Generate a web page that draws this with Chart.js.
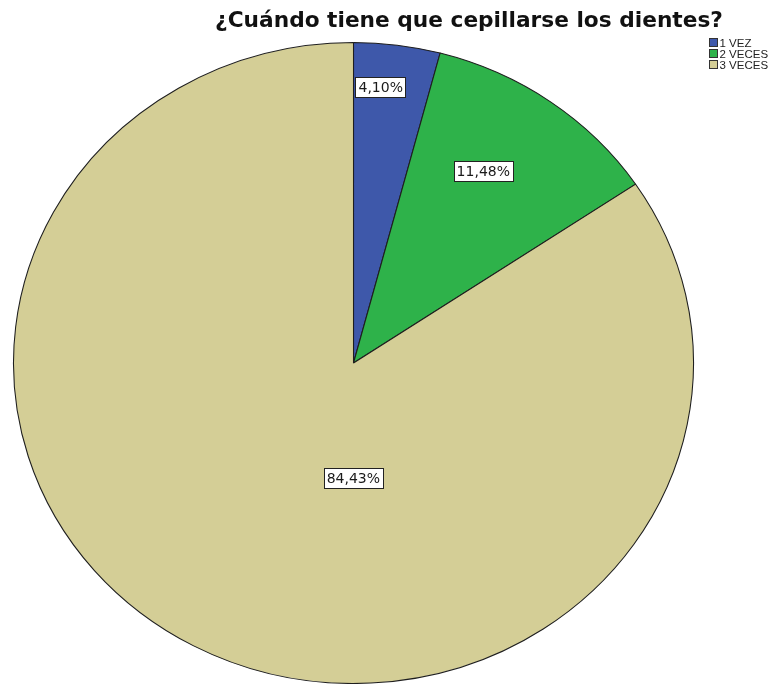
<!DOCTYPE html>
<html>
<head>
<meta charset="utf-8">
<script src="https://cdn.jsdelivr.net/npm/chart.js@4/dist/chart.umd.min.js"></script>
<style>
  html, body { margin: 0; padding: 0; background: #ffffff; }
  #wrap { width: 781px; height: 684px; position: relative; }
</style>
</head>
<body>
<div id="wrap"><canvas id="pie" width="781" height="684"></canvas></div>
<script>
// Answers to "¿Cuándo tiene que cepillarse los dientes?"
const categories = ['1 VEZ', '2 VECES', '3 VECES'];
const percentages = [4.10, 11.48, 84.43];
const sliceColors = ['#3e58aa', '#2eb24a', '#d4ce96'];
const titleText = '¿Cuándo tiene que cepillarse los dientes?';

// Where each value box sits inside its slice: fraction along the slice angle, fraction of the radius
const labelPlacement = [
  { along: 0.36, radial: 0.865 },
  { along: 0.43, radial: 0.71 },
  { along: 0.408, radial: 0.36 }
];

// The pie is drawn slightly wider than tall
const STRETCH_X = 340 / 320.5;

const formatPct = v => v.toFixed(2).replace('.', ',') + '%';

const stretchPlugin = {
  id: 'stretchPie',
  beforeDatasetsDraw(chart) {
    const arc = chart.getDatasetMeta(0).data[0];
    const ctx = chart.ctx;
    ctx.save();
    ctx.translate(arc.x, arc.y);
    ctx.scale(STRETCH_X, 1);
    ctx.translate(-arc.x, -arc.y);
  },
  afterDatasetsDraw(chart) {
    chart.ctx.restore();
  }
};

const decorPlugin = {
  id: 'decor',
  afterDraw(chart) {
    const ctx = chart.ctx;
    const meta = chart.getDatasetMeta(0);
    const values = chart.data.datasets[0].data;

    // value boxes
    ctx.save();
    ctx.font = '14px "DejaVu Sans"';
    ctx.textAlign = 'center';
    ctx.textBaseline = 'middle';
    meta.data.forEach((arc, i) => {
      const p = labelPlacement[i];
      const a = arc.startAngle + p.along * (arc.endAngle - arc.startAngle);
      const r = arc.outerRadius * p.radial;
      const x = arc.x + Math.cos(a) * r * STRETCH_X;
      const y = arc.y + Math.sin(a) * r;
      const txt = formatPct(values[i]);
      const w = ctx.measureText(txt).width + 6;
      const h = 20;
      ctx.fillStyle = '#ffffff';
      ctx.fillRect(Math.round(x - w / 2) + 0.5, Math.round(y - h / 2) + 0.5, Math.round(w), h);
      ctx.strokeStyle = '#222222';
      ctx.lineWidth = 1;
      ctx.strokeRect(Math.round(x - w / 2) + 0.5, Math.round(y - h / 2) + 0.5, Math.round(w), h);
      ctx.fillStyle = '#1a1a1a';
      ctx.fillText(txt, x, y + 1);
    });
    ctx.restore();

    // title
    ctx.save();
    ctx.font = 'bold 21.7px "DejaVu Sans"';
    ctx.fillStyle = '#111111';
    ctx.textAlign = 'center';
    ctx.textBaseline = 'alphabetic';
    ctx.fillText(titleText, 469, 27);
    ctx.restore();

    // legend
    ctx.save();
    ctx.font = '11.5px "Liberation Sans"';
    ctx.textBaseline = 'middle';
    ctx.textAlign = 'left';
    chart.data.labels.forEach((lab, i) => {
      const y = 43 + i * 11;
      ctx.fillStyle = chart.data.datasets[0].backgroundColor[i];
      ctx.fillRect(709.5, y - 4.5, 8, 8);
      ctx.strokeStyle = '#333333';
      ctx.lineWidth = 1;
      ctx.strokeRect(709.5, y - 4.5, 8, 8);
      ctx.fillStyle = '#222222';
      ctx.fillText(lab, 719.5, y + 1);
    });
    ctx.restore();
  }
};

new Chart(document.getElementById('pie'), {
  type: 'pie',
  data: {
    labels: categories,
    datasets: [{
      data: percentages,
      backgroundColor: sliceColors,
      borderColor: '#1e1e1e',
      borderWidth: 1,
      hoverOffset: 0
    }]
  },
  options: {
    responsive: false,
    animation: false,
    devicePixelRatio: 1,
    layout: { padding: { top: 42, right: 74, bottom: 0, left: 0 } },
    plugins: {
      legend: { display: false },
      title: { display: false },
      tooltip: { enabled: false }
    }
  },
  plugins: [stretchPlugin, decorPlugin]
});
</script>
</body>
</html>
